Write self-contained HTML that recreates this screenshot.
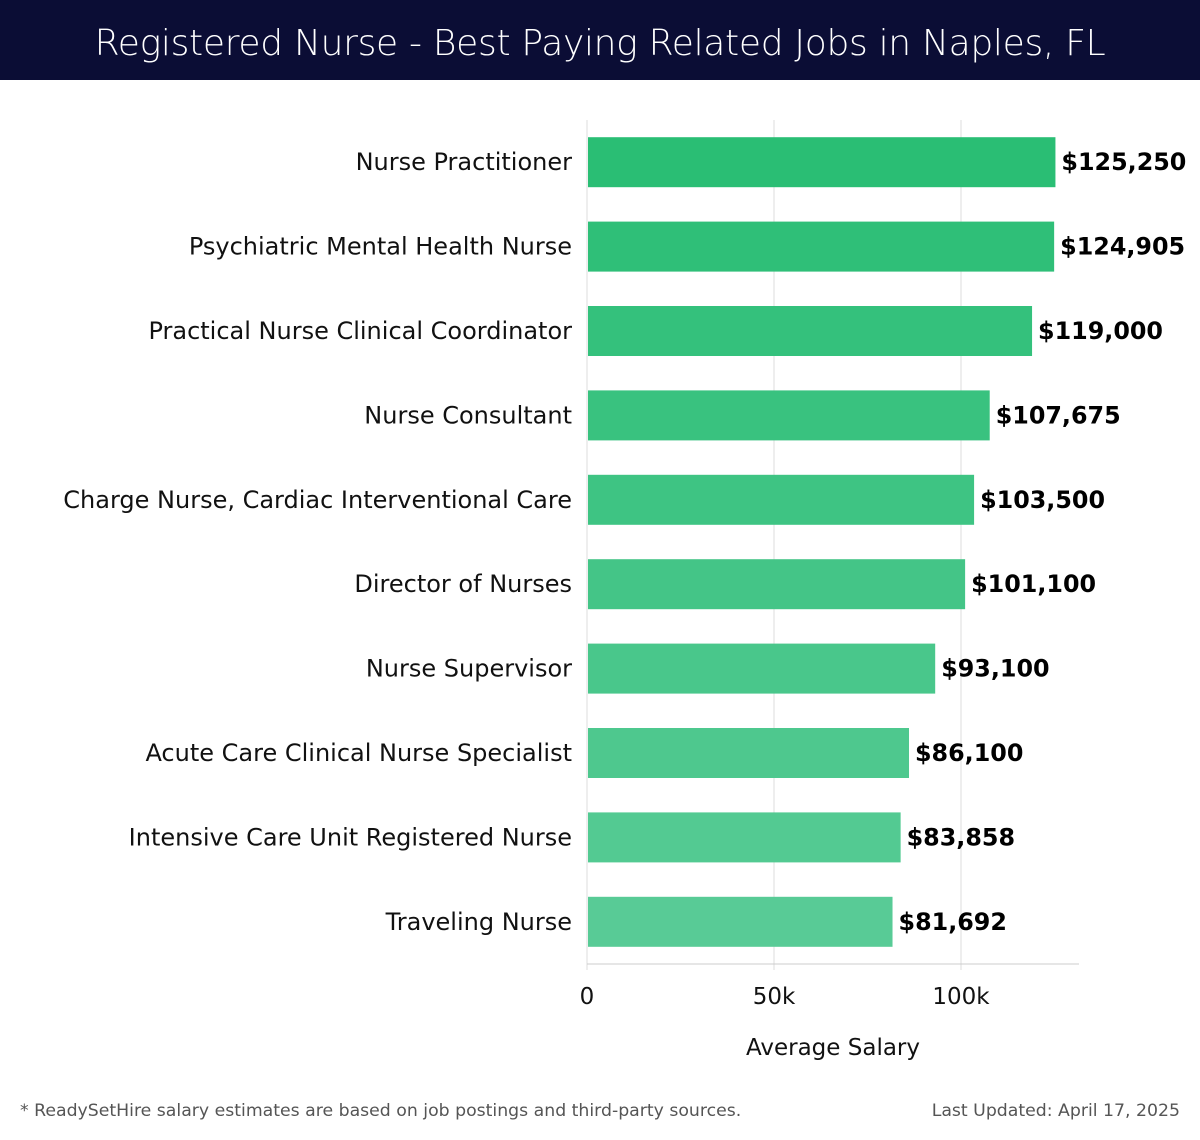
<!DOCTYPE html>
<html><head><meta charset="utf-8"><style>
body{margin:0;width:1200px;height:1140px;background:#fff;font-family:"DejaVu Sans","Liberation Sans",sans-serif;overflow:hidden}
#hdr{position:absolute;left:0;top:0;width:1200px;height:80px;background:#0b0d35;color:#fff;font-size:36px;text-align:center;line-height:88px;font-family:"DejaVu Sans","Liberation Sans",sans-serif;font-weight:300;letter-spacing:-0.3px}
.foot{position:absolute;top:1101px;font-size:17.3px;color:#555;font-family:"DejaVu Sans","Liberation Sans",sans-serif}
</style></head><body>
<div id="hdr">Registered Nurse - Best Paying Related Jobs in Naples, FL</div>
<svg id="chart" width="1200" height="1140" style="position:absolute;left:0;top:0;font-family:'DejaVu Sans','Liberation Sans',sans-serif"></svg>
<div class="foot" style="left:20px">* ReadySetHire salary estimates are based on job postings and third-party sources.</div>
<div class="foot" style="right:20px">Last Updated: April 17, 2025</div>
<script>
const categories=["Nurse Practitioner","Psychiatric Mental Health Nurse","Practical Nurse Clinical Coordinator","Nurse Consultant","Charge Nurse, Cardiac Interventional Care","Director of Nurses","Nurse Supervisor","Acute Care Clinical Nurse Specialist","Intensive Care Unit Registered Nurse","Traveling Nurse"];
const salaries=[125250,124905,119000,107675,103500,101100,93100,86100,83858,81692];
const tickValues=[0,50000,100000];
const tickLabels=["0","50k","100k"];
const NS="http://www.w3.org/2000/svg",svg=document.getElementById('chart');
const x0=587,pxPer=187/50000,top0=120,bottom=964,band=(bottom-top0)/categories.length,bh=50;
const x=v=>x0+v*pxPer, yc=i=>top0+band*(i+0.5);
function mk(t,a){const e=document.createElementNS(NS,t);for(const k in a)e.setAttribute(k,a[k]);svg.appendChild(e);return e;}
tickValues.forEach((v,i)=>{
 const g=mk('line',{x1:x(v),x2:x(v),y1:top0,y2:970,stroke:'#ddd','stroke-width':1});
 
 
 const t=mk('text',{x:x(v),y:1004,'text-anchor':'middle','font-size':23,fill:'#111'});t.textContent=tickLabels[i];
 
 
});
const ax=mk('line',{x1:x0,x2:1079,y1:bottom,y2:bottom,stroke:'#ccc','stroke-width':1});


const c1=[42,190,116],c2=[88,203,150];
categories.forEach((c,i)=>{
 const f=i/(categories.length-1),col=`rgb(${c1.map((v,k)=>Math.round(v+(c2[k]-v)*f)).join(',')})`;
 const r=mk('rect',{x:x0+1,y:yc(i)-bh/2,width:x(salaries[i])-x0-1,height:bh,fill:col});
 
 
 const l=mk('text',{x:572,y:yc(i)+8,'text-anchor':'end','font-size':24,fill:'#111'});l.textContent=c;
 
 
 const v=mk('text',{x:x(salaries[i])+6,y:yc(i)+8,'font-size':23.8,'font-weight':'bold',fill:'#000'});v.textContent='$'+salaries[i].toLocaleString('en-US');
 
 
});
const at=mk('text',{x:833,y:1055,'text-anchor':'middle','font-size':23,fill:'#111'});at.textContent='Average Salary';


</script>
</body></html>
